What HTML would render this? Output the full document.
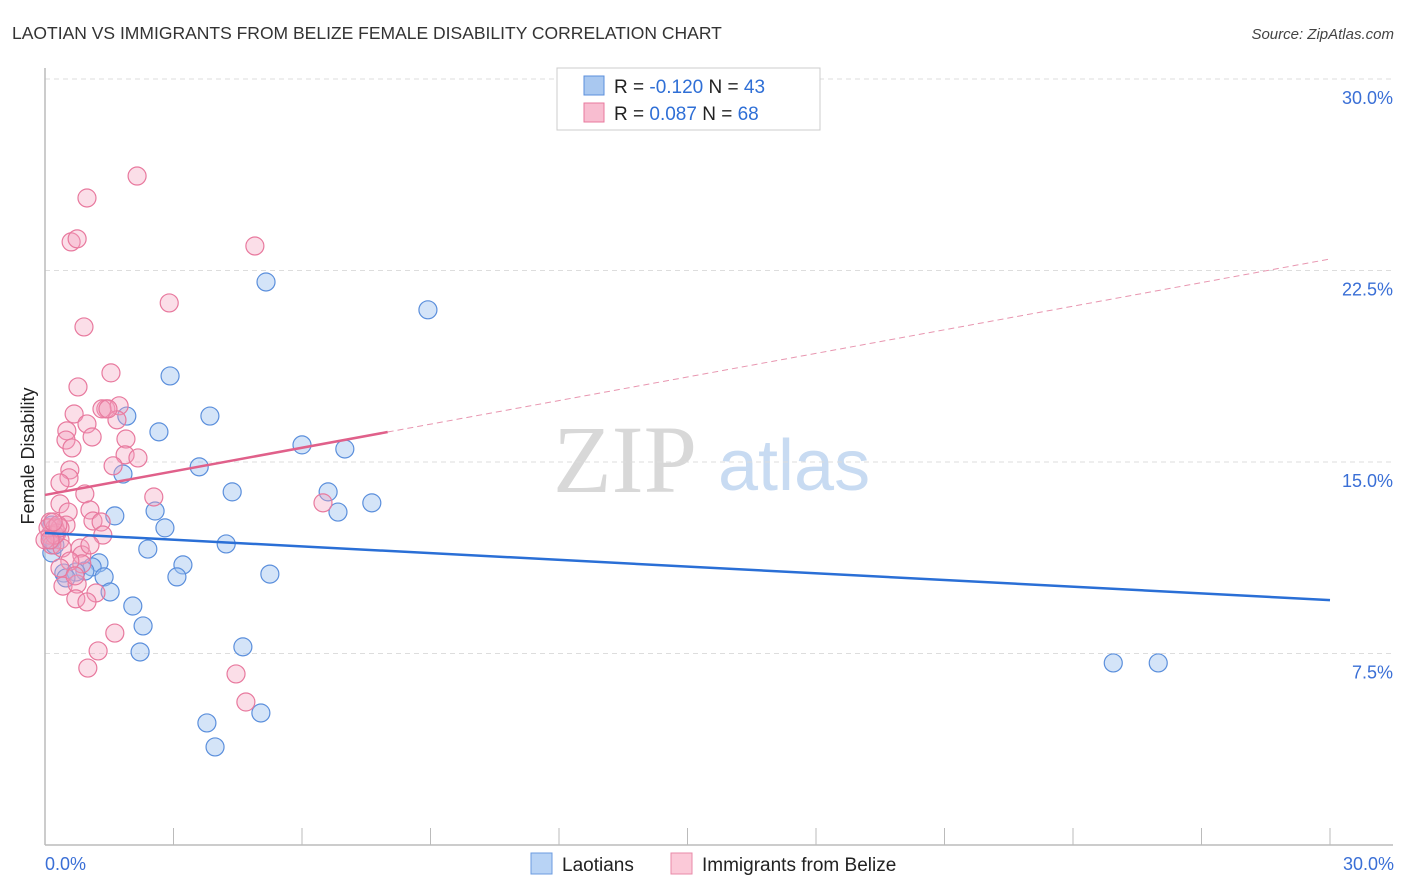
<!DOCTYPE html>
<html><head><meta charset="utf-8"><style>
body{margin:0;background:#fff;font-family:"Liberation Sans",sans-serif}
svg{display:block}
</style></head><body>
<svg id="chart" width="1406" height="892" xmlns="http://www.w3.org/2000/svg">
<text x="12" y="39" font-size="17.5" fill="#333">LAOTIAN VS IMMIGRANTS FROM BELIZE FEMALE DISABILITY CORRELATION CHART</text>
<text x="1394" y="39" font-size="15" font-style="italic" fill="#444" text-anchor="end">Source: ZipAtlas.com</text>
<g>
<text x="553" y="492" font-family="Liberation Serif,serif" font-size="96" fill="#d8d8d8">ZIP</text>
<text x="718" y="490" font-size="72" fill="#c8dbf2">atlas</text>
</g>
<g id="grid"></g>
<line x1="45" y1="68" x2="45" y2="845" stroke="#bbb" stroke-width="1.5"/>
<line x1="45" y1="845" x2="1393" y2="845" stroke="#bbb" stroke-width="1.5"/>
<g id="xticks"></g>
<text transform="translate(34,456) rotate(-90)" font-size="18" fill="#222" text-anchor="middle">Female Disability</text>
<text x="45" y="870" font-size="18" fill="#3a6fd6">0.0%</text>
<text x="1394" y="870" font-size="18" fill="#3a6fd6" text-anchor="end">30.0%</text>
<g id="points"></g>
<g id="trends"></g>
<g>
<rect x="557" y="68" width="263" height="62" fill="#fff" stroke="#ccc"/>
<rect x="584" y="76" width="20" height="19" fill="#a9c8f0" stroke="#5b8fdc"/>
<rect x="584" y="103" width="20" height="19" fill="#f8bdd0" stroke="#e8799e"/>
<text x="614" y="93" font-size="19" fill="#222">R = <tspan fill="#2f6fd6">-0.120</tspan>   N = <tspan fill="#2f6fd6">43</tspan></text>
<text x="614" y="120" font-size="19" fill="#222">R =  <tspan fill="#2f6fd6">0.087</tspan>   N = <tspan fill="#2f6fd6">68</tspan></text>
</g>
<g>
<rect x="531" y="853" width="21" height="21" fill="#b8d3f5" stroke="#6b9be0"/>
<text x="562" y="871" font-size="19" fill="#222">Laotians</text>
<rect x="671" y="853" width="21" height="21" fill="#fbc9d8" stroke="#e88aa8"/>
<text x="702" y="871" font-size="19" fill="#222">Immigrants from Belize</text>
</g>
</svg>
<script>
const yTicks=[7.5,15,22.5,30];
const xTicks=[0,3,6,9,12,15,18,21,24,27,30];
const blueX=[5.16,8.94,2.92,3.85,1.91,2.66,6.00,7.00,3.60,1.82,4.37,6.61,7.63,2.57,1.63,6.84,2.80,4.23,2.40,1.26,3.22,1.10,0.44,0.93,0.72,1.38,3.08,5.25,0.49,1.52,2.05,2.29,4.62,2.22,3.78,5.04,3.97,24.94,25.99,0.16,0.16,0.16,0.23];
const blueY=[22.05,20.96,18.37,16.80,16.80,16.18,15.67,15.51,14.81,14.53,13.83,13.83,13.40,13.08,12.89,13.04,12.42,11.79,11.59,11.05,10.97,10.89,10.65,10.73,10.69,10.50,10.50,10.61,10.46,9.91,9.36,8.58,7.76,7.56,4.78,5.17,3.84,7.13,7.13,11.44,11.95,12.53,11.75];
const pinkX=[2.15,0.98,0.61,0.75,4.90,2.90,0.91,1.54,0.77,1.42,1.73,1.33,0.68,0.98,1.68,0.51,0.49,1.10,0.63,1.89,1.87,2.17,1.59,0.58,0.56,0.35,2.54,0.93,0.35,0.54,6.49,1.05,1.12,0.49,1.31,1.35,0.12,0.23,0.12,0.28,0.35,0.16,0.40,0.82,0.86,0.86,0.58,0.35,0.42,0.75,1.19,0.72,0.98,1.63,1.24,1.00,4.46,4.69,0.23,0.35,0.07,0.30,0.00,0.19,0.12,1.47,0.70,1.05];
const pinkY=[26.20,25.34,23.62,23.74,23.46,21.23,20.29,18.49,17.94,17.08,17.20,17.08,16.88,16.49,16.65,16.22,15.86,15.98,15.55,15.90,15.28,15.16,14.85,14.69,14.38,14.18,13.63,13.75,13.36,13.04,13.40,13.12,12.69,12.53,12.65,12.14,12.65,12.42,12.14,12.22,11.95,11.75,11.63,11.63,11.36,11.01,11.12,10.85,10.14,10.22,9.87,9.64,9.52,8.30,7.60,6.93,6.70,5.60,12.14,12.42,12.42,12.53,11.95,12.65,11.95,17.08,10.54,11.75];
const blueTrend=[12.22,9.59];   // y at x=0 and x=30
const pinkTrend=[13.71,0.308];  // intercept, slope
const pinkSolidEnd=8;
const NS="http://www.w3.org/2000/svg";
const sx=v=>45+v*(1330-45)/30;
const sy=v=>845-v*(845-79)/30;
function mk(tag,attrs,parent){const e=document.createElementNS(NS,tag);for(const k in attrs)e.setAttribute(k,attrs[k]);document.getElementById(parent).appendChild(e);return e;}
yTicks.forEach(t=>{
  const l=mk('line',{x1:45,x2:1393,y1:sy(t),y2:sy(t),stroke:'#ddd','stroke-dasharray':'5,4'},'grid');
  
  
  const tx=mk('text',{x:1393,y:sy(t)+25,'font-size':18,fill:'#3a6fd6','text-anchor':'end'},'grid');
  tx.textContent=t.toFixed(1)+'%';
  
  
});
xTicks.forEach(t=>{
  const l=mk('line',{x1:sx(t),x2:sx(t),y1:828,y2:845,stroke:'#bbb'},'xticks');
  
  
});
blueX.forEach((x,i)=>{
  const c=mk('circle',{cx:sx(x),cy:sy(blueY[i]),r:9,fill:'rgba(160,195,240,0.45)',stroke:'#5b8fdc','stroke-width':1.2},'points');
  
  
});
pinkX.forEach((x,i)=>{
  const c=mk('circle',{cx:sx(x),cy:sy(pinkY[i]),r:9,fill:'rgba(244,160,188,0.35)',stroke:'#e8799e','stroke-width':1.2},'points');
  
  
});
const bt=mk('line',{x1:sx(0),y1:sy(blueTrend[0]),x2:sx(30),y2:sy(blueTrend[1]),stroke:'#2a6fd6','stroke-width':2.5},'trends');


const pf=x=>pinkTrend[0]+pinkTrend[1]*x;
const ps=mk('line',{x1:sx(0),y1:sy(pf(0)),x2:sx(pinkSolidEnd),y2:sy(pf(pinkSolidEnd)),stroke:'#e0608a','stroke-width':2.5},'trends');


const pd=mk('line',{x1:sx(pinkSolidEnd),y1:sy(pf(pinkSolidEnd)),x2:sx(30),y2:sy(pf(30)),stroke:'#e896b0','stroke-width':1,'stroke-dasharray':'6,4'},'trends');


</script>
</body></html>
